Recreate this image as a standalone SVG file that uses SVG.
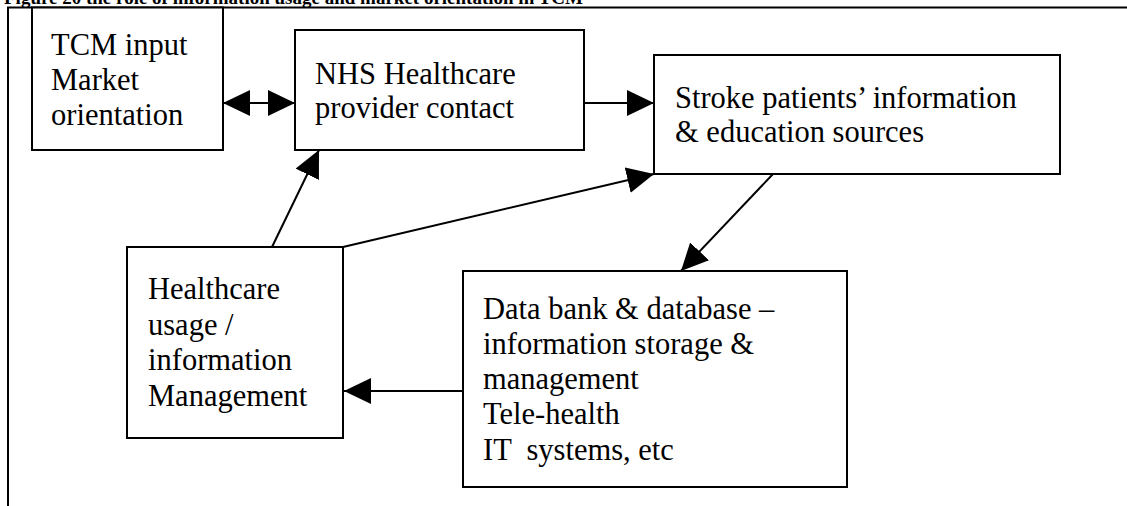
<svg xmlns="http://www.w3.org/2000/svg" width="1127" height="506" viewBox="0 0 1127 506">
<defs>
<style>
.box{fill:#fff;stroke:#000;stroke-width:2}
.t{font-family:"Liberation Serif","Times New Roman",serif;font-size:30.5px;fill:#000}
.title{font-family:"Liberation Serif","Times New Roman",serif;font-size:19px;font-weight:bold;fill:#000}
.c{stroke:#000;stroke-width:2;fill:none}
</style>
<marker id="ah" markerUnits="userSpaceOnUse" markerWidth="28" markerHeight="26" refX="27" refY="13" orient="auto-start-reverse" viewBox="0 0 28 26">
<path d="M0,0 L27,13 L0,26 z" fill="#000"/>
</marker>
</defs>
<rect width="1127" height="506" fill="#fff"/>
<text class="title" x="4" y="4">Figure 20 the role of information usage and market orientation in TCM</text>
<g id="frame">
<line class="c" x1="7" y1="7.5" x2="1127" y2="7.5"/>
<line class="c" x1="8" y1="7" x2="8" y2="506"/>
</g>
<g id="connectors">
<line class="c" x1="223" y1="103" x2="295" y2="103" marker-start="url(#ah)" marker-end="url(#ah)"/>
<line class="c" x1="584" y1="103" x2="654" y2="103" marker-end="url(#ah)"/>
<line class="c" x1="272" y1="247" x2="319" y2="150" marker-end="url(#ah)"/>
<line class="c" x1="343" y1="247" x2="654" y2="174" marker-end="url(#ah)"/>
<line class="c" x1="773" y1="174" x2="681" y2="271" marker-end="url(#ah)"/>
<line class="c" x1="463" y1="391" x2="344" y2="391" marker-end="url(#ah)"/>
</g>
<g id="tcm">
<rect class="box" x="32" y="7.5" width="191" height="142.5"/>
<text class="t" x="51" y="55">TCM input</text>
<text class="t" x="51" y="90">Market</text>
<text class="t" x="51" y="125">orientation</text>
</g>
<g id="nhs">
<rect class="box" x="295" y="30" width="289" height="120"/>
<text class="t" x="315" y="84">NHS Healthcare</text>
<text class="t" x="315" y="118">provider contact</text>
</g>
<g id="stroke">
<rect class="box" x="654" y="55" width="406" height="119"/>
<text class="t" x="675" y="108">Stroke patients’ information</text>
<text class="t" x="675" y="142">&amp; education sources</text>
</g>
<g id="healthcare">
<rect class="box" x="127" y="247" width="216" height="191"/>
<text class="t" x="148" y="299">Healthcare</text>
<text class="t" x="148" y="334.5">usage /</text>
<text class="t" x="148" y="370">information</text>
<text class="t" x="148" y="406">Management</text>
</g>
<g id="data">
<rect class="box" x="463" y="271" width="384" height="216"/>
<text class="t" x="483" y="319">Data bank &amp; database –</text>
<text class="t" x="483" y="354">information storage &amp;</text>
<text class="t" x="483" y="389">management</text>
<text class="t" x="483" y="424">Tele-health</text>
<text class="t" x="483" y="460" xml:space="preserve">IT  systems, etc</text>
</g>
</svg>
